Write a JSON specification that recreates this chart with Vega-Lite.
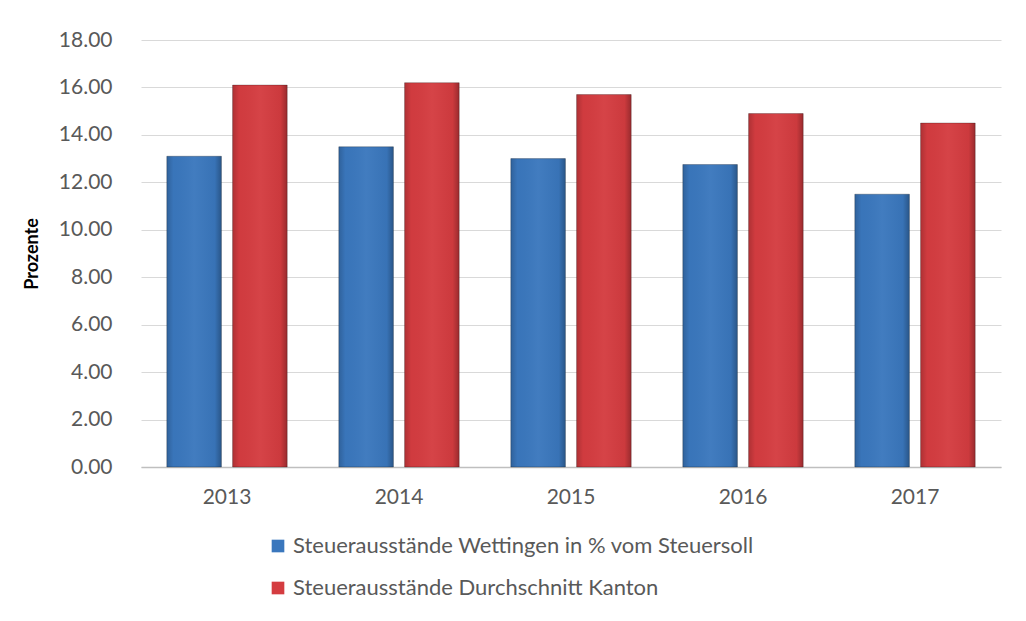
{
  "$schema": "https://vega.github.io/schema/vega-lite/v6.json",
  "width": 860,
  "height": 427,
  "autosize": {"type": "none"},
  "padding": {"left": 141, "top": 40, "right": 25, "bottom": 154},
  "background": "white",
  "data": {
    "values": [
      {"Jahr": "2013", "Serie": "Steuerausstände Wettingen in % vom Steuersoll", "Wert": 13.1},
      {"Jahr": "2013", "Serie": "Steuerausstände Durchschnitt Kanton", "Wert": 16.1},
      {"Jahr": "2014", "Serie": "Steuerausstände Wettingen in % vom Steuersoll", "Wert": 13.5},
      {"Jahr": "2014", "Serie": "Steuerausstände Durchschnitt Kanton", "Wert": 16.2},
      {"Jahr": "2015", "Serie": "Steuerausstände Wettingen in % vom Steuersoll", "Wert": 13.0},
      {"Jahr": "2015", "Serie": "Steuerausstände Durchschnitt Kanton", "Wert": 15.7},
      {"Jahr": "2016", "Serie": "Steuerausstände Wettingen in % vom Steuersoll", "Wert": 12.75},
      {"Jahr": "2016", "Serie": "Steuerausstände Durchschnitt Kanton", "Wert": 14.9},
      {"Jahr": "2017", "Serie": "Steuerausstände Wettingen in % vom Steuersoll", "Wert": 11.5},
      {"Jahr": "2017", "Serie": "Steuerausstände Durchschnitt Kanton", "Wert": 14.5}
    ]
  },
  "config": {
    "font": "Lato",
    "view": {"stroke": null}
  },
  "encoding": {
    "x": {
      "field": "Jahr",
      "type": "nominal",
      "scale": {"paddingInner": 0.3, "paddingOuter": 0.15},
      "axis": {
        "title": null,
        "labelAngle": 0,
        "labelFontSize": 21,
        "labelColor": "#595959",
        "labelPadding": 19,
        "ticks": false,
        "domainColor": "#bfbfbf",
        "domainWidth": 1.5
      }
    },
    "xOffset": {
      "field": "Serie",
      "type": "nominal",
      "sort": ["Steuerausstände Wettingen in % vom Steuersoll", "Steuerausstände Durchschnitt Kanton"],
      "scale": {"paddingInner": 0.17, "paddingOuter": 0}
    },
    "y": {
      "field": "Wert",
      "type": "quantitative",
      "scale": {"domain": [0, 18], "nice": false},
      "axis": {
        "title": "Prozente",
        "titleFontSize": 18,
        "titleFontWeight": "bold",
        "titleColor": "#000000",
        "titleX": -100,
        "values": [0, 2, 4, 6, 8, 10, 12, 14, 16, 18],
        "format": ".2f",
        "labelFontSize": 21,
        "labelColor": "#595959",
        "labelPadding": 29,
        "ticks": false,
        "domain": false,
        "gridColor": "#d9d9d9",
        "gridWidth": 1.2
      }
    }
  },
  "layer": [
    {
      "mark": {"type": "bar", "stroke": "#00000040", "strokeWidth": 1},
      "encoding": {
        "color": {
          "field": "Serie",
          "type": "nominal",
          "sort": ["Steuerausstände Wettingen in % vom Steuersoll", "Steuerausstände Durchschnitt Kanton"],
          "scale": {
            "domain": ["Steuerausstände Wettingen in % vom Steuersoll", "Steuerausstände Durchschnitt Kanton"],
            "range": ["#3a77bd", "#d43c40"]
          },
          "legend": {
            "title": null,
            "orient": "none",
            "legendX": 126,
            "legendY": 495,
            "direction": "vertical",
            "symbolType": "square",
            "symbolSize": 160,
            "symbolStrokeWidth": 0,
            "labelFontSize": 22,
            "labelColor": "#595959",
            "labelOffset": 4,
            "rowPadding": 20,
            "labelLimit": 700
          }
        }
      }
    },
    {
      "mark": {
        "type": "bar",
        "fill": {
          "gradient": "linear",
          "x1": 0, "y1": 0, "x2": 1, "y2": 0,
          "stops": [
            {"offset": 0, "color": "rgba(0,0,0,0.18)"},
            {"offset": 0.12, "color": "rgba(0,0,0,0.02)"},
            {"offset": 0.5, "color": "rgba(255,255,255,0.04)"},
            {"offset": 0.88, "color": "rgba(0,0,0,0.04)"},
            {"offset": 1, "color": "rgba(0,0,0,0.28)"}
          ]
        }
      }
    }
  ]
}
